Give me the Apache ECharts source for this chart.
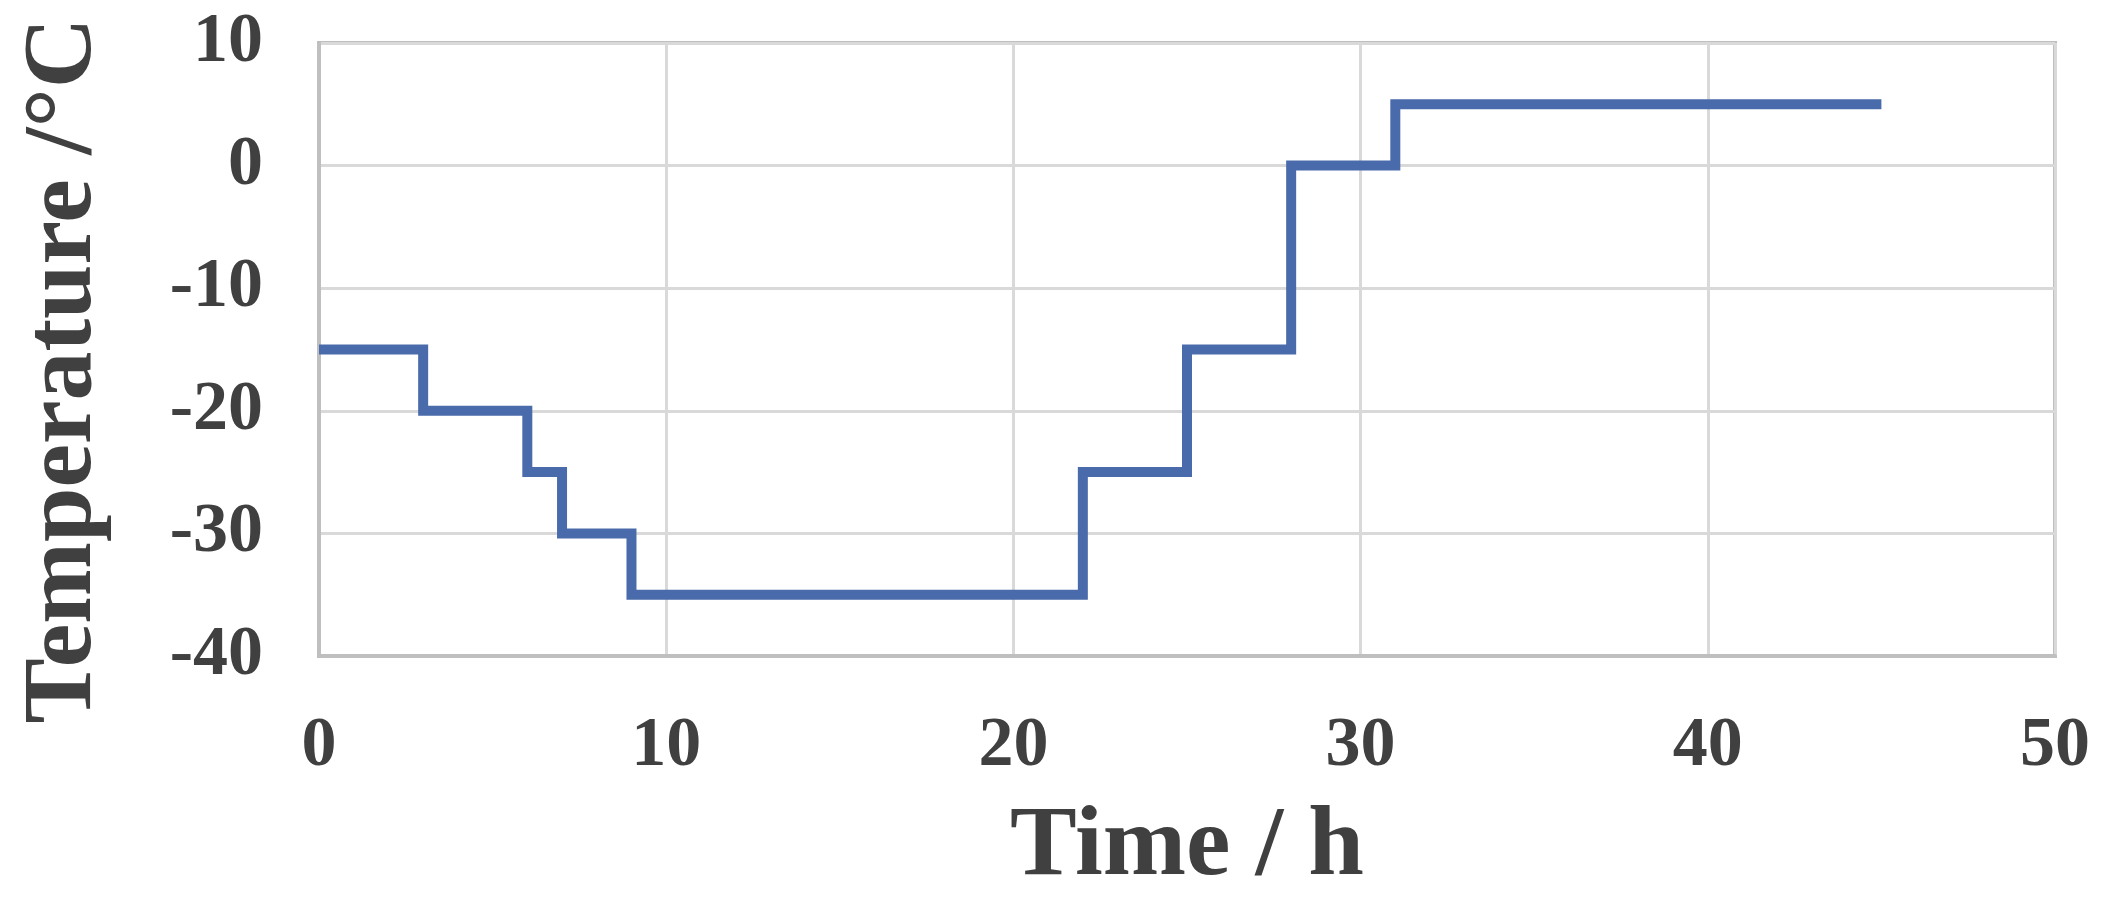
<!DOCTYPE html>
<html>
<head>
<meta charset="utf-8">
<script src="https://cdn.jsdelivr.net/npm/echarts@6/dist/echarts.min.js"></script>
<style>
html,body{margin:0;padding:0;background:#fff;}
#main{width:2103px;height:906px;}
</style>
</head>
<body>
<div id="main"></div>
<script>
// Time (h) at each step change and temperature (°C) held from that time
const timeHours = [0, 3, 6, 7, 9, 22, 25, 28, 31, 45];
const temperatureC = [-15, -20, -25, -30, -35, -25, -15, 0, 5, 5];
const xAxisTitle = 'Time / h';
const yAxisTitle = 'Temperature /°C';

const seriesData = timeHours.map((t, i) => [t, temperatureC[i]]);

const textColor = '#404040';
const fontFamily = '"Liberation Serif", "Times New Roman", serif';

const chart = echarts.init(document.getElementById('main'));
chart.setOption({
  animation: false,
  backgroundColor: '#ffffff',
  grid: {
    left: 319, top: 43, right: 48, bottom: 250,
    show: true, borderColor: '#bfbfbf', borderWidth: 4,
    containLabel: false,
    outerBoundsMode: 'none'
  },
  xAxis: {
    type: 'value', min: 0, max: 50, interval: 10,
    name: xAxisTitle, nameLocation: 'middle', nameGap: 142,
    nameTextStyle: { color: textColor, fontFamily: fontFamily, fontWeight: 'bold', fontSize: 100 },
    axisLine: { show: true, onZero: false, lineStyle: { color: '#bfbfbf', width: 4 } },
    axisTick: { show: false },
    axisLabel: { color: textColor, fontFamily: fontFamily, fontWeight: 'bold', fontSize: 70, margin: 56 },
    splitLine: { show: true, lineStyle: { color: '#d9d9d9', width: 3 } }
  },
  yAxis: {
    type: 'value', min: -40, max: 10, interval: 10,
    name: yAxisTitle, nameLocation: 'middle', nameGap: 205,
    nameTextStyle: { color: textColor, fontFamily: fontFamily, fontWeight: 'bold', fontSize: 98, padding: [0, 42, 0, 0] },
    axisLine: { show: true, onZero: false, lineStyle: { color: '#bfbfbf', width: 4 } },
    axisTick: { show: false },
    axisLabel: { color: textColor, fontFamily: fontFamily, fontWeight: 'bold', fontSize: 70, margin: 56 },
    splitLine: { show: true, lineStyle: { color: '#d9d9d9', width: 3 } }
  },
  series: [{
    type: 'line',
    step: 'end',
    data: seriesData,
    showSymbol: false,
    lineStyle: { color: '#4a6bab', width: 10, join: 'miter', cap: 'butt' }
  }]
});
</script>
</body>
</html>
